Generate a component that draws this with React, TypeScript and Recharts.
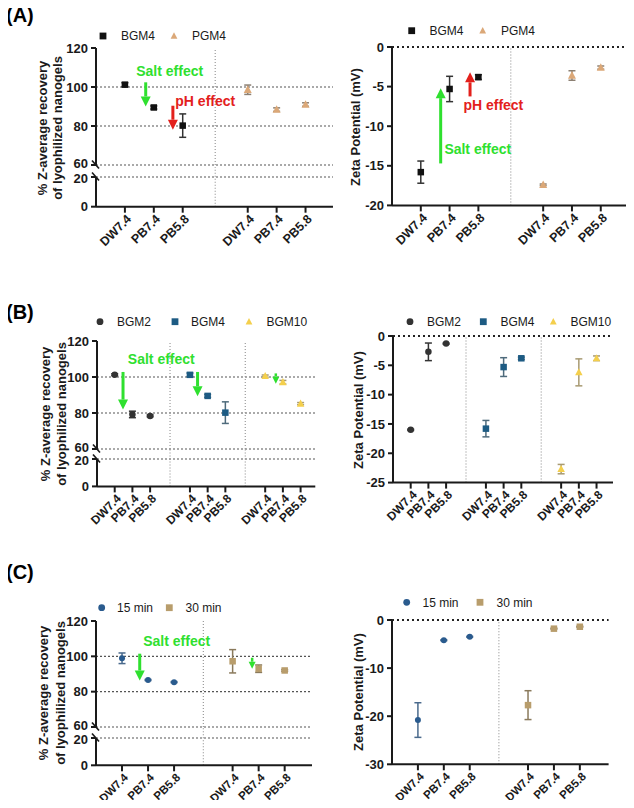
import React from 'react';
import { ScatterChart, Scatter, XAxis, YAxis, ErrorBar, ReferenceLine, ReferenceDot } from 'recharts';

const FONT = '"Liberation Sans", Arial, Helvetica, sans-serif';
const INK = '#1a1a1a';
const GREEN = '#2fe02f';
const RED = '#e3201c';

const conditions = ['DW7.4', 'PB7.4', 'PB5.8'];

// (A) BGM4 vs PGM4
const zA_BGM4 = [101.2, 89.5, 80.2];
const zA_BGM4_sd = [1.0, 0.8, 6.0];
const zA_PGM4 = [98.6, 88.4, 91.0];
const zA_PGM4_sd = [2.4, 0.9, 0.9];
const zetaA_BGM4 = [-15.8, -5.3, -3.8];
const zetaA_BGM4_sd = [1.4, 1.6, 0.3];
const zetaA_PGM4 = [-17.4, -3.6, -2.6];
const zetaA_PGM4_sd = [0.1, 0.6, 0.2];

// (B) BGM2 / BGM4 / BGM10
const zB_BGM2 = [101.3, 79.2, 78.4];
const zB_BGM2_sd = [0.5, 1.8, 0.5];
const zB_BGM4 = [101.2, 89.5, 80.2];
const zB_BGM4_sd = [1.0, 0.8, 6.0];
const zB_BGM10 = [100.5, 97.1, 85.2];
const zB_BGM10_sd = [0.6, 1.0, 0.6];
const zetaB_BGM2 = [-16.0, -2.7, -1.3];
const zetaB_BGM2_sd = [0.1, 1.5, 0.1];
const zetaB_BGM4 = [-15.8, -5.3, -3.8];
const zetaB_BGM4_sd = [1.4, 1.6, 0.2];
const zetaB_BGM10 = [-22.7, -6.2, -3.8];
const zetaB_BGM10_sd = [0.8, 2.3, 0.4];

// (C) 15 min / 30 min
const zC_15 = [98.9, 86.6, 85.4];
const zC_15_sd = [3.0, 0.3, 0.3];
const zC_30 = [97.2, 93.0, 92.0];
const zC_30_sd = [6.6, 2.1, 0.5];
const zetaC_15 = [-20.8, -4.2, -3.5];
const zetaC_15_sd = [3.6, 0.1, 0.1];
const zetaC_30 = [-17.7, -1.8, -1.4];
const zetaC_30_sd = [3.0, 0.1, 0.1];

const recoveryTicks = [60, 80, 100, 120];
const lowTicks = [0, 20];

// x layout: three conditions per group, groups separated by a gap
const GAP = 4.25;
const pos = (g: number, i: number) => g * GAP + i + 1;
const pts = (vals: number[], sd: number[], g: number) => vals.map((v, i) => ({ x: pos(g, i), y: v, sd: sd[i] }));
const xTicksFor = (n: number) => Array.from({ length: n }, (_, g) => conditions.map((_, i) => pos(g, i))).flat();
const xLabelsFor = (n: number) => Array.from({ length: n }, () => conditions).flat();
const dividersFor = (n: number) => Array.from({ length: n - 1 }, (_, g) => (pos(g, 2) + pos(g + 1, 0)) / 2);

type Pt = { x: number; y: number; sd: number };
type S = { name: string; data: Pt[]; color: string; err: string; kind: string; size: number };

const marker = (kind: string, color: string, s: number) => (p: any) => {
  const { cx, cy } = p;
  if (cx == null || cy == null) return <g />;
  if (kind === 'square') return <rect x={cx - s / 2} y={cy - s / 2} width={s} height={s} fill={color} />;
  if (kind === 'circle') return <circle cx={cx} cy={cy} r={s / 2} fill={color} />;
  return <polygon points={`${cx},${cy - s * 0.55} ${cx - s / 2},${cy + s * 0.4} ${cx + s / 2},${cy + s * 0.4}`} fill={color} />;
};
const noMarker = () => <g />;

const arrow = (color: string, head = 10, w = 3) => (p: any) => {
  const { x1, y1, x2, y2 } = p;
  const dx = x2 - x1, dy = y2 - y1;
  const len = Math.hypot(dx, dy) || 1;
  const ux = dx / len, uy = dy / len;
  const bx = x2 - ux * head, by = y2 - uy * head;
  const px = -uy * head * 0.5, py = ux * head * 0.5;
  return (
    <g>
      <line x1={x1} y1={y1} x2={bx} y2={by} stroke={color} strokeWidth={w} />
      <polygon points={`${x2},${y2} ${bx + px},${by + py} ${bx - px},${by - py}`} fill={color} />
    </g>
  );
};

const note = (label: string, color: string) => (p: any) => (
  <text x={p.cx} y={p.cy} dy="0.35em" textAnchor="middle" fill={color} fontSize={14} fontWeight="bold" fontFamily={FONT}>
    {label}
  </text>
);

const AXW = 44, MT = 10, MR = 4, XH = 60, MB = 10;

function Plot(props: {
  x0: number; x1: number; yTop: number; yBot: number;
  domain: [number, number]; ticks: number[]; xMax: number; groups: number;
  showX: boolean; series: S[]; grid: number[]; zeroStyle?: boolean; xFont?: number;
  breakAt?: number; divTop?: number; extra?: React.ReactNode;
}) {
  const { x0, x1, yTop, yBot, domain, ticks, xMax, groups, showX, series, grid, zeroStyle, breakAt, divTop, extra } = props;
  const xFont = props.xFont ?? 12.5;
  const w = x1 - x0 + AXW + MR;
  const h = yBot - yTop + MT + (showX ? XH : MB);
  const xTicks = xTicksFor(groups);
  const xLabels = xLabelsFor(groups);

  const XTick = (p: any) => {
    const idx = xTicks.findIndex((t) => Math.abs(t - p.payload.value) < 1e-6);
    const ax = p.x + 4, ay = p.y + 2;
    return (
      <text x={ax} y={ay} dy="0.35em" textAnchor="end" transform={`rotate(-45 ${ax} ${ay})`}
        fontSize={xFont} fontWeight="bold" fill={INK} fontFamily={FONT}>
        {xLabels[idx]}
      </text>
    );
  };
  const YTick = (p: any) => {
    const isBreak = breakAt !== undefined && p.payload.value === breakAt;
    // the two labels around the axis break sit close together; nudge them apart
    const nudge = isBreak ? (breakAt === 60 ? -1.5 : 1.5) : 0;
    return (
      <g>
        <text x={p.x} y={p.y + nudge} dy="0.35em" textAnchor="end" fontSize={13} fontWeight="bold" fill={INK} fontFamily={FONT}>
          {p.payload.value}
        </text>
        {isBreak && (
          <line x1={AXW - 4} y1={p.y - 4.5} x2={AXW + 3} y2={p.y + 3.5} stroke={INK} strokeWidth={1.6} />
        )}
      </g>
    );
  };

  return (
    <div style={{ position: 'absolute', left: x0 - AXW, top: yTop - MT }}>
      <ScatterChart width={w} height={h} margin={{ top: MT, right: MR, left: 0, bottom: showX ? 0 : MB }}>
        <XAxis type="number" dataKey="x" domain={[0, xMax]} ticks={xTicks} interval={0} allowDataOverflow
          hide={!showX} height={XH} axisLine={{ stroke: INK, strokeWidth: 2 }} tickLine={{ stroke: INK, strokeWidth: 2 }}
          tickSize={6} tickMargin={2} tick={XTick} />
        <YAxis type="number" dataKey="y" domain={domain} ticks={ticks} interval={0} allowDataOverflow width={AXW}
          axisLine={{ stroke: INK, strokeWidth: 2 }} tickLine={{ stroke: INK, strokeWidth: 2 }}
          tickSize={5} tickMargin={3} tick={YTick} />
        {grid.map((v) => (
          <ReferenceLine key={'g' + v} y={v} stroke={zeroStyle ? '#222' : '#555'}
            strokeDasharray={zeroStyle ? '2 3' : '2 2'} strokeWidth={zeroStyle ? 1.8 : 1.2} />
        ))}
        {dividersFor(groups).map((d) =>
          divTop !== undefined ? (
            <ReferenceLine key={'d' + d} segment={[{ x: d, y: domain[0] }, { x: d, y: divTop }]} ifOverflow="visible"
              stroke="#9a9a9a" strokeDasharray="1 2" strokeWidth={1.2} />
          ) : (
            <ReferenceLine key={'d' + d} x={d} stroke="#9a9a9a" strokeDasharray="1 2" strokeWidth={1.2} />
          )
        )}
        {series.map((s) => (
          <Scatter key={s.name + '-err'} data={s.data} isAnimationActive={false} shape={noMarker} legendType="none">
            <ErrorBar dataKey="sd" direction="y" width={3.5} stroke={s.err} strokeWidth={1.5} isAnimationActive={false} />
          </Scatter>
        ))}
        {series.map((s) => (
          <Scatter key={s.name} name={s.name} data={s.data} isAnimationActive={false} shape={marker(s.kind, s.color, s.size)} />
        ))}
        {extra}
      </ScatterChart>
    </div>
  );
}

function BrokenPlot(props: {
  x0: number; x1: number; top: number; at60: number; at20: number; bottom: number;
  xMax: number; groups: number; series: S[]; xFont?: number; extra?: React.ReactNode;
}) {
  const { x0, x1, top, at60, at20, bottom, xMax, groups, series, xFont, extra } = props;
  const lowPx = (bottom - at20) / 20;
  const divTop = 20 + (at20 - at60) / lowPx;
  return (
    <>
      <Plot x0={x0} x1={x1} yTop={top} yBot={at60} domain={[60, 120]} ticks={recoveryTicks} xMax={xMax}
        groups={groups} showX={false} series={series} grid={[60, 80, 100]} breakAt={60} extra={extra} />
      <Plot x0={x0} x1={x1} yTop={at20} yBot={bottom} domain={[0, 20]} ticks={lowTicks} xMax={xMax}
        groups={groups} showX={true} series={[]} grid={[20]} breakAt={20} divTop={divTop} xFont={xFont} />
    </>
  );
}

const legendMarker = (kind: string, color: string, x: number, y: number) => {
  const s = 6.8;
  if (kind === 'square') return <rect x={x - s / 2} y={y - s / 2} width={s} height={s} fill={color} />;
  if (kind === 'circle') return <circle cx={x} cy={y} r={s / 2} fill={color} />;
  return <polygon points={`${x},${y - s * 0.55} ${x - s / 2},${y + s * 0.4} ${x + s / 2},${y + s * 0.4}`} fill={color} />;
};

function Legend({ items, y }: { items: { kind: string; color: string; mx: number; tx: number; label: string }[]; y: number }) {
  return (
    <g>
      {items.map((it) => (
        <g key={it.label + it.mx}>
          {legendMarker(it.kind, it.color, it.mx, y)}
          <text x={it.tx} y={y} dy="0.35em" fontSize={12} fill={INK} fontFamily={FONT}>{it.label}</text>
        </g>
      ))}
    </g>
  );
}

function YTitle({ x, y, lines }: { x: number[]; y: number; lines: string[] }) {
  return (
    <g>
      {lines.map((l, i) => (
        <text key={l} transform={`translate(${x[i]},${y}) rotate(-90)`} textAnchor="middle" dy="0.35em"
          fontSize={13} fontWeight="bold" fill={INK} fontFamily={FONT}>{l}</text>
      ))}
    </g>
  );
}

const C_A = { bgm4: '#111111', pgm4: '#dba878' };
const C_B = { bgm2: '#333333', bgm4: '#1d5b83', bgm10: '#f4cf4c' };
const C_C = { m15: '#2a5b8e', m30: '#b89d6c' };

export default function App() {
  const sA: S[] = [
    { name: 'BGM4', data: pts(zA_BGM4, zA_BGM4_sd, 0), color: C_A.bgm4, err: '#333', kind: 'square', size: 6.5 },
    { name: 'PGM4', data: pts(zA_PGM4, zA_PGM4_sd, 1), color: C_A.pgm4, err: '#8c8073', kind: 'triangle', size: 8 },
  ];
  const sAz: S[] = [
    { name: 'BGM4', data: pts(zetaA_BGM4, zetaA_BGM4_sd, 0), color: C_A.bgm4, err: '#333', kind: 'square', size: 6.5 },
    { name: 'PGM4', data: pts(zetaA_PGM4, zetaA_PGM4_sd, 1), color: C_A.pgm4, err: '#8c8073', kind: 'triangle', size: 8 },
  ];
  const sB: S[] = [
    { name: 'BGM2', data: pts(zB_BGM2, zB_BGM2_sd, 0), color: C_B.bgm2, err: '#333', kind: 'circle', size: 6.5 },
    { name: 'BGM4', data: pts(zB_BGM4, zB_BGM4_sd, 1), color: C_B.bgm4, err: '#4f6b7c', kind: 'square', size: 6.5 },
    { name: 'BGM10', data: pts(zB_BGM10, zB_BGM10_sd, 2), color: C_B.bgm10, err: '#a89a72', kind: 'triangle', size: 7.5 },
  ];
  const sBz: S[] = [
    { name: 'BGM2', data: pts(zetaB_BGM2, zetaB_BGM2_sd, 0), color: C_B.bgm2, err: '#333', kind: 'circle', size: 6.5 },
    { name: 'BGM4', data: pts(zetaB_BGM4, zetaB_BGM4_sd, 1), color: C_B.bgm4, err: '#4f6b7c', kind: 'square', size: 6.5 },
    { name: 'BGM10', data: pts(zetaB_BGM10, zetaB_BGM10_sd, 2), color: C_B.bgm10, err: '#a89a72', kind: 'triangle', size: 7.5 },
  ];
  const sC: S[] = [
    { name: '15 min', data: pts(zC_15, zC_15_sd, 0), color: C_C.m15, err: '#4a6a8c', kind: 'circle', size: 6 },
    { name: '30 min', data: pts(zC_30, zC_30_sd, 1), color: C_C.m30, err: '#8a7a5c', kind: 'square', size: 6.5 },
  ];
  const sCz: S[] = [
    { name: '15 min', data: pts(zetaC_15, zetaC_15_sd, 0), color: C_C.m15, err: '#4a6a8c', kind: 'circle', size: 6 },
    { name: '30 min', data: pts(zetaC_30, zetaC_30_sd, 1), color: C_C.m30, err: '#8a7a5c', kind: 'square', size: 6.5 },
  ];

  return (
    <div style={{ position: 'relative', width: 634, height: 808, margin: -8, background: '#fff', fontFamily: FONT, overflow: 'hidden' }}>
      <svg width={634} height={808} style={{ position: 'absolute', left: 0, top: 0 }}>
        <text x={6} y={22} fontSize={20} fontWeight="bold" fill="#000" fontFamily={FONT}>(A)</text>
        <text x={6} y={319} fontSize={20} fontWeight="bold" fill="#000" fontFamily={FONT}>(B)</text>
        <text x={6} y={579} fontSize={20} fontWeight="bold" fill="#000" fontFamily={FONT}>(C)</text>

        <Legend y={36} items={[
          { kind: 'square', color: C_A.bgm4, mx: 103, tx: 121, label: 'BGM4' },
          { kind: 'triangle', color: C_A.pgm4, mx: 174, tx: 192, label: 'PGM4' },
        ]} />
        <Legend y={30.7} items={[
          { kind: 'square', color: C_A.bgm4, mx: 411.7, tx: 429.5, label: 'BGM4' },
          { kind: 'triangle', color: C_A.pgm4, mx: 482.7, tx: 501, label: 'PGM4' },
        ]} />
        <Legend y={321.7} items={[
          { kind: 'circle', color: C_B.bgm2, mx: 100, tx: 117, label: 'BGM2' },
          { kind: 'square', color: C_B.bgm4, mx: 175, tx: 191, label: 'BGM4' },
          { kind: 'triangle', color: C_B.bgm10, mx: 249, tx: 266.5, label: 'BGM10' },
        ]} />
        <Legend y={321.7} items={[
          { kind: 'circle', color: C_B.bgm2, mx: 410, tx: 427, label: 'BGM2' },
          { kind: 'square', color: C_B.bgm4, mx: 483.3, tx: 500.5, label: 'BGM4' },
          { kind: 'triangle', color: C_B.bgm10, mx: 553.3, tx: 570.5, label: 'BGM10' },
        ]} />
        <Legend y={607.7} items={[
          { kind: 'circle', color: C_C.m15, mx: 101.7, tx: 117, label: '15 min' },
          { kind: 'square', color: C_C.m30, mx: 169.3, tx: 185.5, label: '30 min' },
        ]} />
        <Legend y={602.3} items={[
          { kind: 'circle', color: C_C.m15, mx: 406.7, tx: 422.5, label: '15 min' },
          { kind: 'square', color: C_C.m30, mx: 480, tx: 496.5, label: '30 min' },
        ]} />

        <YTitle x={[42, 57]} y={128} lines={['% Z-average recovery', 'of lyophilized nanogels']} />
        <YTitle x={[45, 61]} y={414} lines={['% Z-average recovery', 'of lyophilized nanogels']} />
        <YTitle x={[43.5, 60]} y={693} lines={['% Z-average recovery', 'of lyophilized nanogels']} />
        <YTitle x={[355]} y={127} lines={['Zeta Potential (mV)']} />
        <YTitle x={[358]} y={410} lines={['Zeta Potential (mV)']} />
        <YTitle x={[358.3]} y={692} lines={['Zeta Potential (mV)']} />
      </svg>

      {/* (A) recovery */}
      <BrokenPlot x0={96} x1={333} top={48.3} at60={165.3} at20={177.3} bottom={207} xMax={8.2} groups={2} series={sA}
        extra={[
          <ReferenceDot key="t1" x={2.55} y={108.4} r={0} ifOverflow="visible" shape={note('Salt effect', GREEN)} />,
          <ReferenceLine key="a1" segment={[{ x: 1.72, y: 102.4 }, { x: 1.72, y: 90 }]} shape={arrow(GREEN)} />,
          <ReferenceDot key="t2" x={3.78} y={93} r={0} ifOverflow="visible" shape={note('pH effect', RED)} />,
          <ReferenceLine key="a2" segment={[{ x: 2.66, y: 90.4 }, { x: 2.66, y: 78.1 }]} shape={arrow(RED)} />,
        ]} />
      {/* (A) zeta */}
      <Plot x0={392} x1={631} yTop={47.3} yBot={205.7} domain={[-20, 0]} ticks={[-20, -15, -10, -5, 0]} xMax={8.3}
        groups={2} showX={true} series={sAz} grid={[0]} zeroStyle
        extra={[
          <ReferenceLine key="a1" segment={[{ x: 1.69, y: -14.7 }, { x: 1.69, y: -5.2 }]} shape={arrow(GREEN)} />,
          <ReferenceDot key="t1" x={2.98} y={-12.84} r={0} ifOverflow="visible" shape={note('Salt effect', GREEN)} />,
          <ReferenceLine key="a2" segment={[{ x: 2.71, y: -6.24 }, { x: 2.71, y: -3.2 }]} shape={arrow(RED)} />,
          <ReferenceDot key="t2" x={3.52} y={-7.32} r={0} ifOverflow="visible" shape={note('pH effect', RED)} />,
        ]} />

      {/* (B) recovery */}
      <BrokenPlot x0={96.7} x1={315} top={340.7} at60={448.7} at20={459.3} bottom={486.7} xMax={12.33} groups={3} series={sB}
        xFont={12}
        extra={[
          <ReferenceDot key="t1" x={3.63} y={109.8} r={0} ifOverflow="visible" shape={note('Salt effect', GREEN)} />,
          <ReferenceLine key="a1" segment={[{ x: 1.47, y: 102.8 }, { x: 1.47, y: 81.9 }]} shape={arrow(GREEN)} />,
          <ReferenceLine key="a2" segment={[{ x: 5.68, y: 102.8 }, { x: 5.68, y: 89.3 }]} shape={arrow(GREEN)} />,
          <ReferenceLine key="a3" segment={[{ x: 10.1, y: 102 }, { x: 10.1, y: 96.3 }]} shape={arrow(GREEN, 7, 2.5)} />,
        ]} />
      {/* (B) zeta */}
      <Plot x0={393.3} x1={613.3} yTop={335.7} yBot={482.3} domain={[-25, 0]} ticks={[-25, -20, -15, -10, -5, 0]} xMax={12.43}
        groups={3} showX={true} series={sBz} grid={[0]} zeroStyle xFont={12} />

      {/* (C) recovery */}
      <BrokenPlot x0={95.7} x1={311.7} top={620.7} at60={726.7} at20={737.7} bottom={765} xMax={8.3} groups={2} series={sC}
        xFont={11.5}
        extra={[
          <ReferenceDot key="t1" x={3.1} y={108.5} r={0} ifOverflow="visible" shape={note('Salt effect', GREEN)} />,
          <ReferenceLine key="a1" segment={[{ x: 1.68, y: 101.5 }, { x: 1.68, y: 86.3 }]} shape={arrow(GREEN)} />,
          <ReferenceLine key="a2" segment={[{ x: 6.0, y: 99.2 }, { x: 6.0, y: 93 }]} shape={arrow(GREEN, 7, 2.5)} />,
        ]} />
      {/* (C) zeta */}
      <Plot x0={391.7} x1={608.3} yTop={620} yBot={764.3} domain={[-30, 0]} ticks={[-30, -20, -10, 0]} xMax={8.36}
        groups={2} showX={true} series={sCz} grid={[0]} zeroStyle xFont={11.5} />
    </div>
  );
}
